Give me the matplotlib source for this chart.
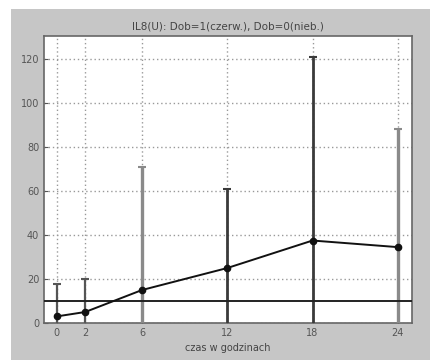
import numpy as np
import matplotlib
matplotlib.use("Agg")
import matplotlib.pyplot as plt
from matplotlib.patches import Rectangle

# czas (h), srednie i gorne konce slupkow bledu
hours = [0, 2, 6, 12, 18, 24]
means = [3, 5, 15, 25, 37.5, 34.5]
upper = [17.7, 20, 71, 61, 121, 88]
bar_colors = ['#555555', '#555555', '#8a8a8a', '#3a3a3a', '#3a3a3a', '#8a8a8a']
bar_widths = [1.6, 1.6, 2.4, 2.0, 2.0, 2.4]
threshold = 10

fig = plt.figure(figsize=(4.31, 3.6), dpi=100, facecolor='white')
fig.patches.append(Rectangle((11 / 431, 0), 1, 1 - 9 / 360, transform=fig.transFigure,
                             facecolor='#c6c6c6', edgecolor='none', zorder=-10))

ax = fig.add_axes([44 / 431, 37 / 360, 368 / 431, 287 / 360])
ax.set_facecolor('white')

for h, m, u, c, w in zip(hours, means, upper, bar_colors, bar_widths):
    ax.errorbar(h, m, yerr=u - m, fmt='none', ecolor=c, elinewidth=w,
                capsize=3, capthick=1.5, zorder=3)

ax.plot(hours, means, color='#111111', lw=1.4, marker='o', ms=4.5,
        markerfacecolor='#111111', zorder=4)
ax.axhline(threshold, color='#222222', lw=1.4, zorder=3)

ax.set_xlim(-0.9, 25)
ax.set_ylim(0, 130.5)
ax.set_xticks(hours)
ax.set_yticks(np.arange(0, 121, 20))
ax.grid(True, color='#999999', linestyle=(0, (1, 2)), linewidth=1)
ax.tick_params(direction='in', labelsize=7, colors='#555555', length=3)
for s in ax.spines.values():
    s.set_color('#666666')
    s.set_linewidth(1.2)

ax.set_title('IL8(U): Dob=1(czerw.), Dob=0(nieb.)', fontsize=7.5, color='#444444', pad=5)
ax.set_xlabel('czas w godzinach', fontsize=7, color='#444444', labelpad=4)

fig.savefig('out.png', dpi=100, facecolor=fig.get_facecolor())
